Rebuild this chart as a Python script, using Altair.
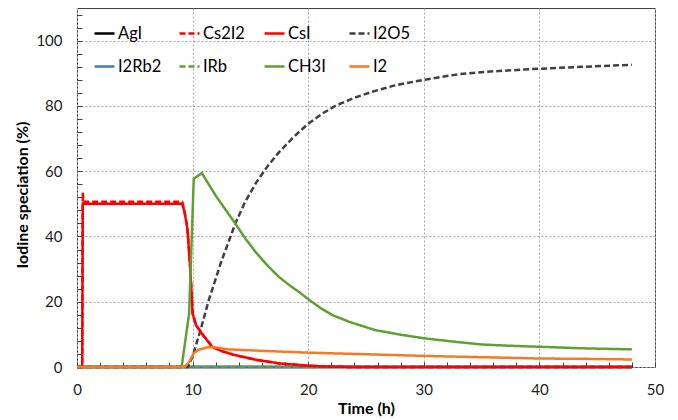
import altair as alt
import pandas as pd

# ---- data ----
series_order = ["AgI", "Cs2I2", "CsI", "I2O5", "I2Rb2", "IRb", "CH3I", "I2"]
series_colors = ["#000000", "#FF0000", "#FF0000", "#404040", "#3C7DC4", "#5EA032", "#5EA032", "#F8791F"]
series_dashes = [[1, 0], [6, 3], [1, 0], [6, 3], [1, 0], [6, 3], [1, 0], [1, 0]]

agi_t = [0, 48]
agi_v = [0, 0]
i2rb2_t = [0, 48]
i2rb2_v = [0, 0]
irb_t = [0, 48]
irb_v = [0, 0]

i2o5_t = [0, 9.6, 10.0, 10.7, 11.4, 12.5, 13.7, 14.5, 15.5, 16.5, 17.5, 18.5, 19.2, 20.0, 21.2, 22.4, 24.0, 25.5, 27.5, 30.0, 33.0, 36.0, 40.0, 44.0, 48.0]
i2o5_v = [0, 0, 3.2, 11.5, 20.5, 32.5, 44.0, 50.3, 56.5, 61.6, 65.9, 69.6, 72.0, 74.5, 77.6, 80.1, 82.5, 84.3, 86.3, 88.0, 89.7, 90.6, 91.4, 92.0, 92.6]

cs2i2_t = [0, 0.45, 0.5, 0.56, 9.1, 9.3, 9.55, 9.8, 10.0, 10.3, 10.85, 11.7, 12.5, 13.5, 14.5, 15.5, 17.5, 20.0, 22.0, 24.0, 48.0]
cs2i2_v = [0, 0, 53.5, 50.6, 50.6, 47.8, 42.6, 30.0, 16.4, 12.8, 10.0, 6.2, 4.9, 3.8, 3.0, 2.2, 1.1, 0.4, 0.1, 0, 0]

csi_t = [0, 0.45, 0.5, 9.1, 9.3, 9.55, 9.8, 10.0, 10.3, 10.85, 11.7, 12.5, 13.5, 14.5, 15.5, 17.5, 20.0, 22.0, 24.0, 48.0]
csi_v = [0, 0, 50.0, 50.0, 47.5, 42.4, 30.0, 16.4, 12.8, 10.0, 6.2, 4.9, 3.8, 3.0, 2.2, 1.1, 0.4, 0.1, 0, 0]

ch3i_t = [0, 9.05, 9.7, 10.1, 10.8, 12.0, 13.7, 14.6, 15.5, 16.5, 17.5, 18.4, 19.2, 20.1, 21.1, 22.1, 23.5, 25.8, 28.0, 30.0, 32.5, 35.0, 37.5, 40.0, 44.0, 48.0]
ch3i_v = [0, 0, 16.4, 57.7, 59.4, 52.5, 43.9, 39.2, 35.0, 31.0, 27.5, 25.0, 23.0, 20.5, 18.0, 15.9, 13.9, 11.3, 9.9, 8.8, 7.8, 6.9, 6.5, 6.2, 5.7, 5.4]

i2_t = [0, 9.3, 9.7, 10.1, 10.5, 11.4, 12.0, 13.1, 15.7, 20.0, 26.1, 30.0, 35.0, 40.0, 44.0, 48.0]
i2_v = [0, 0, 1.5, 4.2, 5.3, 6.1, 6.0, 5.4, 5.0, 4.4, 3.8, 3.4, 3.0, 2.6, 2.5, 2.3]

draw_order = [
    ("AgI", agi_t, agi_v),
    ("I2Rb2", i2rb2_t, i2rb2_v),
    ("IRb", irb_t, irb_v),
    ("I2O5", i2o5_t, i2o5_v),
    ("Cs2I2", cs2i2_t, cs2i2_v),
    ("CsI", csi_t, csi_v),
    ("CH3I", ch3i_t, ch3i_v),
    ("I2", i2_t, i2_v),
]
rows = []
for name, ts, vs in draw_order:
    for t, v in zip(ts, vs):
        rows.append({"s": name, "t": t, "v": v})
df = pd.DataFrame(rows)

W, H = 578, 359
FONT = "Lato"
xscale = alt.Scale(domain=[0, 50], nice=False, zero=False)
yscale = alt.Scale(domain=[0, 110], nice=False)

base = alt.Chart(df)

lines = base.mark_line(strokeWidth=2.5).encode(
    x=alt.X("t:Q", scale=xscale,
            axis=alt.Axis(values=[0, 10, 20, 30, 40, 50], title="Time (h)", ticks=False,
                          domain=False, grid=True, labelPadding=15, titlePadding=3,
                          labelFlush=False)),
    y=alt.Y("v:Q", scale=yscale,
            axis=alt.Axis(values=[0, 20, 40, 60, 80, 100], title="Iodine speciation (%)", ticks=False,
                          domain=False, grid=True, labelPadding=15, titleX=-47,
                          titleY=H / 2 + 7, labelFlush=False)),
    color=alt.Color("s:N", scale=alt.Scale(domain=series_order, range=series_colors),
                    legend=alt.Legend(title=None)),
    strokeDash=alt.StrokeDash("s:N", scale=alt.Scale(domain=series_order, range=series_dashes),
                              legend=alt.Legend(title=None)),
)

yticks = base.mark_line(opacity=0).encode(
    x=alt.X("t:Q", scale=xscale, axis=None),
    y=alt.Y("v:Q", scale=yscale,
            axis=alt.Axis(orient="right", offset=-W, values=list(range(0, 110, 4)), labels=False,
                          domain=False, grid=False, tickSize=5, tickColor="#404040", title=None)),
    detail="s:N",
)

xticks = base.mark_line(opacity=0).encode(
    x=alt.X("t:Q", scale=xscale,
            axis=alt.Axis(orient="top", offset=-H, values=list(range(0, 51, 2)), labels=False,
                          domain=False, grid=False, tickSize=5, tickColor="#404040", title=None)),
    y=alt.Y("v:Q", scale=yscale, axis=None),
    detail="s:N",
)

chart = alt.layer(lines, yticks, xticks).resolve_axis(
    x="independent", y="independent"
).properties(
    width=W, height=H,
    autosize=alt.AutoSizeParams(type="none"),
    padding={"left": 69, "top": 0, "right": 11, "bottom": 50},
).configure_view(
    stroke="#404040", strokeWidth=1
).configure_axis(
    labelFont=FONT, labelFontSize=15, labelColor="#222222",
    titleFont=FONT, titleFontSize=16, titleFontWeight="bold", titleColor="#000000",
    gridColor="#A6A6A6", gridDash=[2, 2], gridWidth=1,
).configure_legend(
    orient="none", legendX=16, legendY=14, direction="horizontal", columns=4,
    gridAlign="all", columnPadding=12, rowPadding=13, padding=0,
    labelFont=FONT, labelFontSize=16.5, labelColor="#000000", labelOffset=2,
    symbolType="stroke", symbolSize=400, symbolStrokeWidth=2.5,
)

chart.save("out.html", embed_options={"renderer": "svg", "actions": False})
